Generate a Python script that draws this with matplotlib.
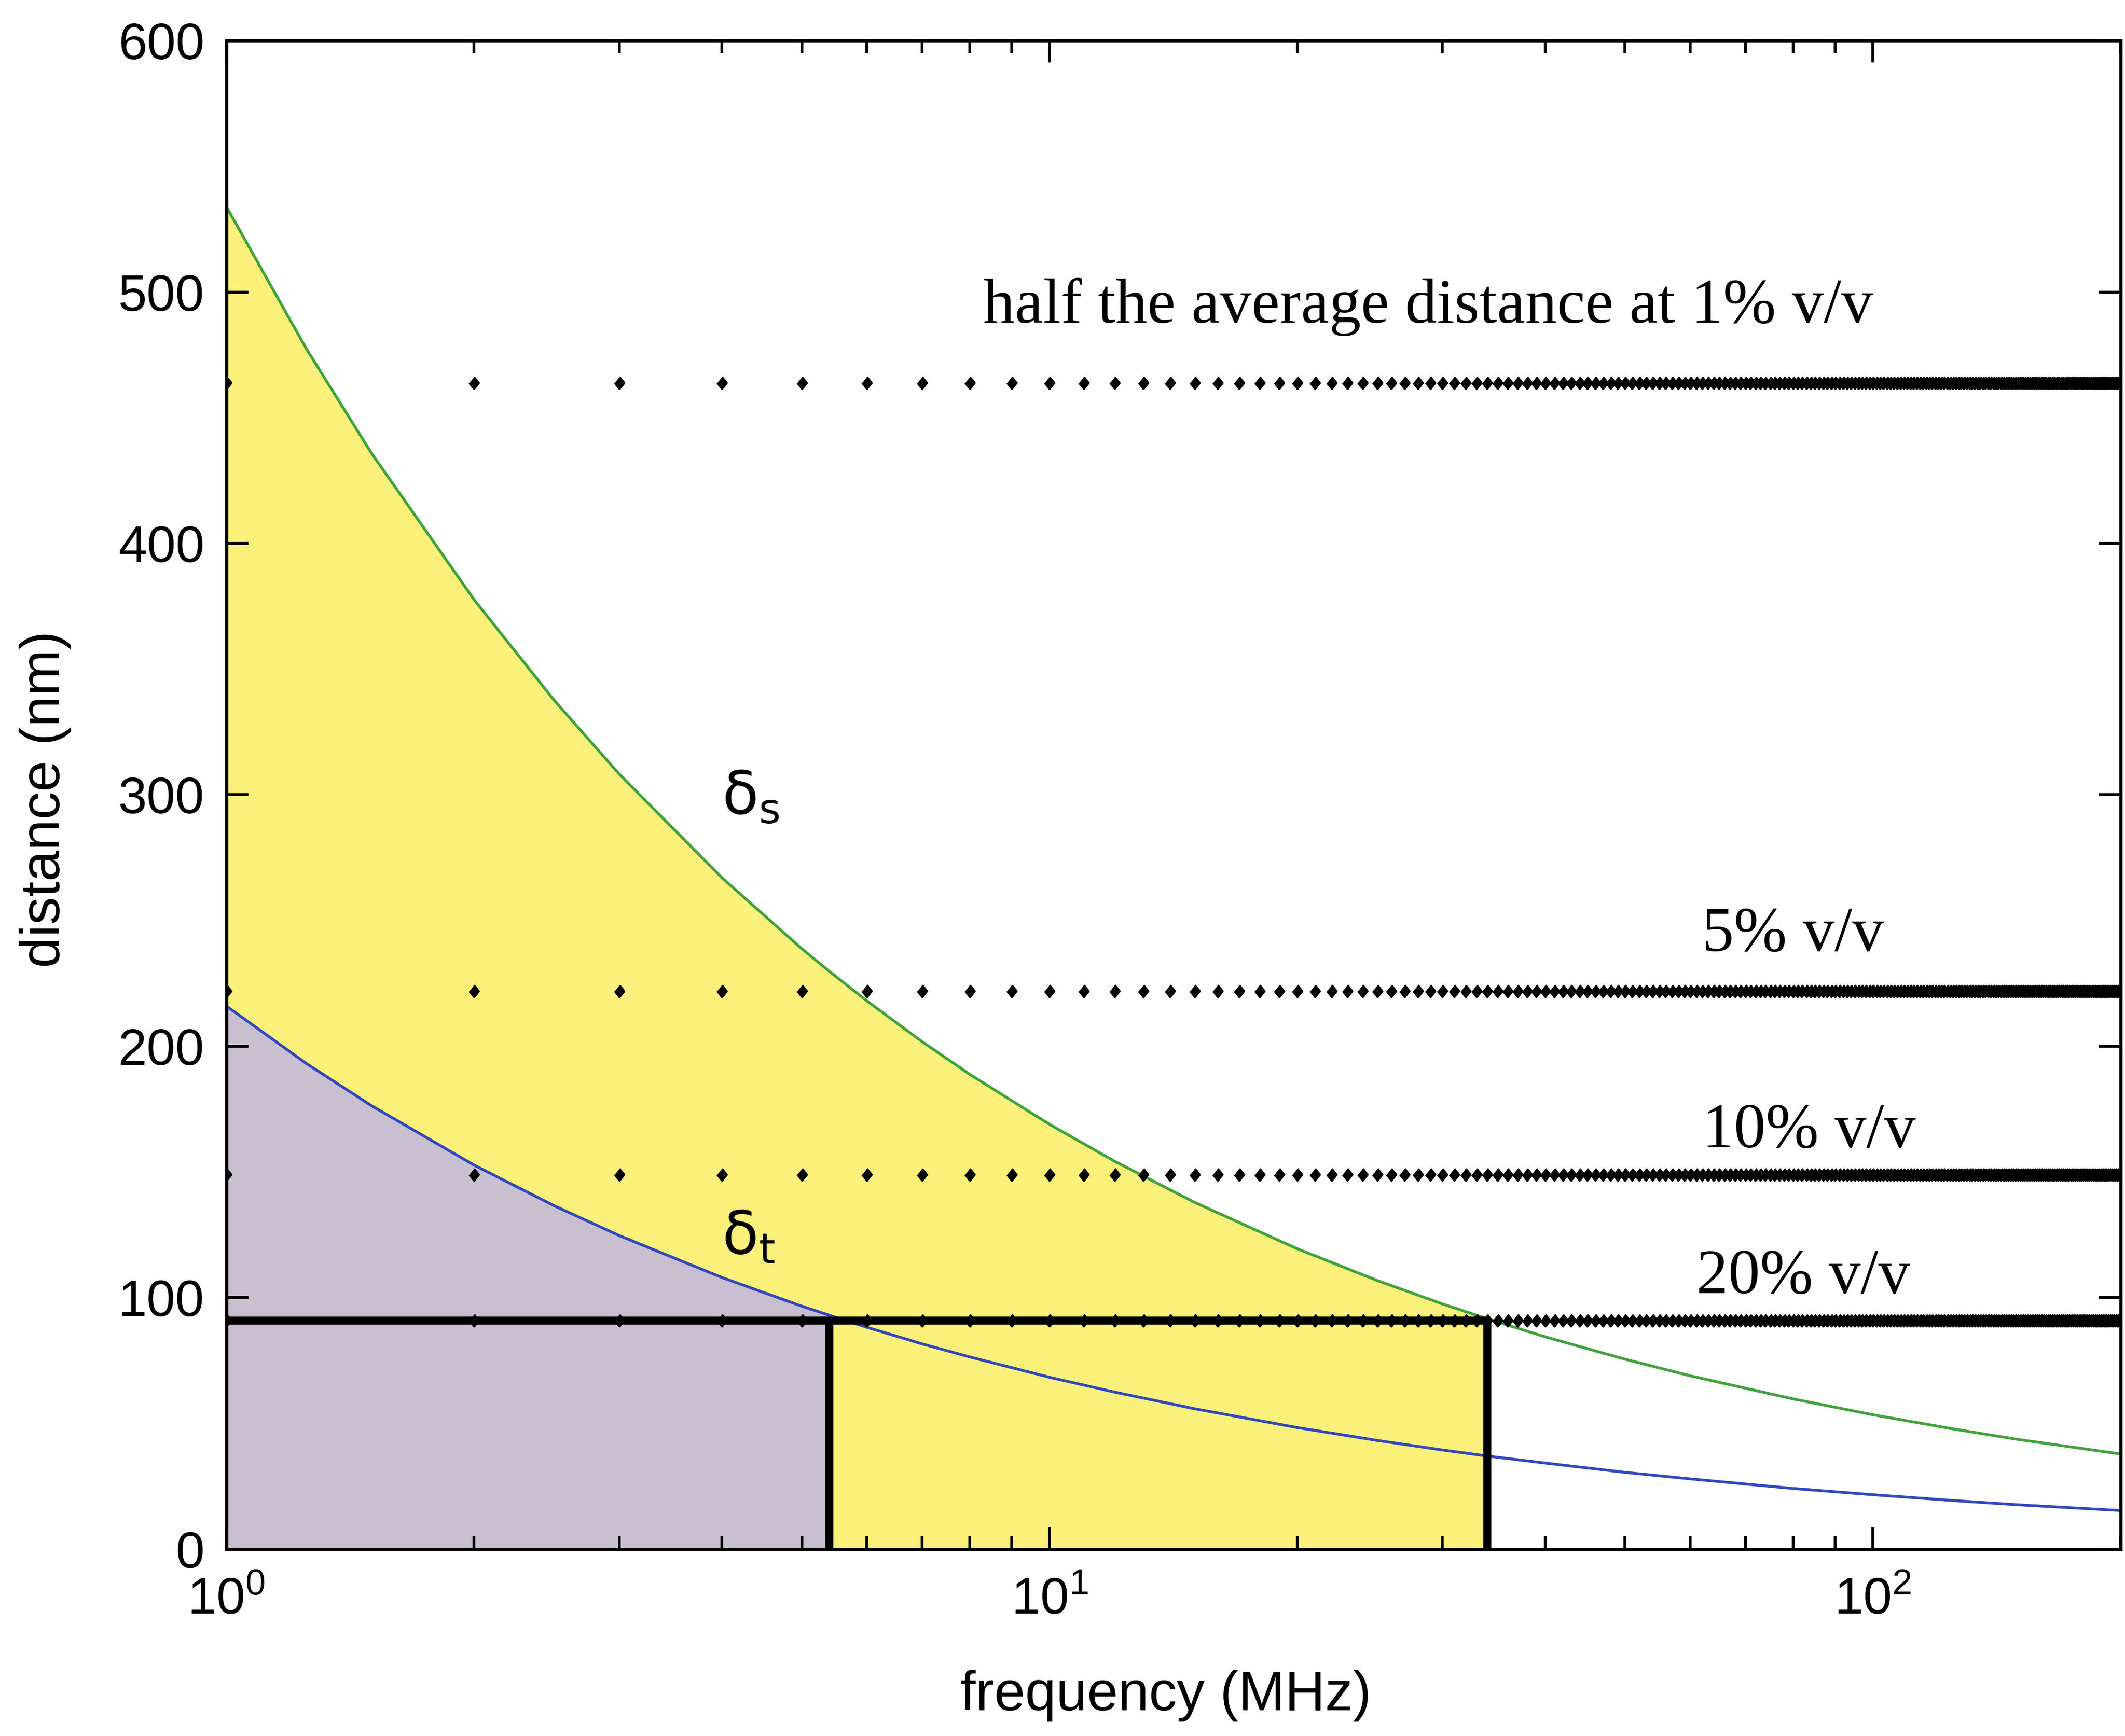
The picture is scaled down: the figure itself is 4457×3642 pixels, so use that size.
import numpy as np
import matplotlib
matplotlib.use('Agg')
import matplotlib.pyplot as plt

plt.rcParams['font.family'] = ['Liberation Sans', 'DejaVu Sans']
plt.rcParams['mathtext.default'] = 'regular'

# frequency (MHz) and the two depths (nm)
freq = [1, 1.25, 1.5, 2, 2.5, 3, 4, 5, 5.4, 6, 7, 8, 10, 12, 15, 20, 25, 30, 34,
        40, 50, 60, 80, 100, 125, 150, 200]
delta_s = [534, 477.6, 436.0, 377.6, 337.7, 308.3, 267.0, 238.8, 229.8, 218.0, 201.8,
           188.8, 168.9, 154.2, 137.9, 119.4, 106.8, 97.5, 91.6, 84.4, 75.5, 68.9,
           59.7, 53.4, 47.8, 43.6, 37.8]
delta_t = [216, 193.2, 176.4, 152.7, 136.6, 124.7, 108.0, 96.6, 93.0, 88.2, 81.6,
           76.4, 68.3, 62.4, 55.8, 48.3, 43.2, 39.4, 37.0, 34.2, 30.5, 27.9,
           24.1, 21.6, 19.3, 17.6, 15.3]

# half the average particle distance for each concentration (nm)
levels = [464, 222, 149, 91]
level_names = ['half the average distance at 1% v/v', '5% v/v', '10% v/v', '20% v/v']
dot_freq = list(range(1, 201))

# limits of the shaded boxes
f_t = 5.4
f_s = 34
d_cut = 91

freq = np.array(freq)
delta_s = np.array(delta_s)
delta_t = np.array(delta_t)

fig = plt.figure(figsize=(4457 / 300, 3642 / 300), dpi=300)
fig.patch.set_facecolor('white')
ax = fig.add_axes([0.1065, 0.1077, 0.8915, 0.8689])

# shaded areas under the curves
ax.fill_between(freq, 0, delta_s, where=freq <= f_s, color='#FAF07A', lw=0, zorder=1)
ax.fill_between(freq, 0, delta_t, where=freq <= f_t, color='#C9BFD0', lw=0, zorder=1.1)

ax.plot(freq, delta_s, color='#3FA33A', lw=1.4, zorder=2)
ax.plot(freq, delta_t, color='#3048C0', lw=1.4, zorder=2)

# box edges
ax.plot([1, f_s], [d_cut, d_cut], color='black', lw=4, solid_capstyle='butt', zorder=3)
ax.plot([f_t, f_t], [0, d_cut], color='black', lw=4, solid_capstyle='butt', zorder=3)
ax.plot([f_s, f_s], [0, d_cut], color='black', lw=4, solid_capstyle='butt', zorder=3)

# dotted concentration lines
diamond = [(0, 1), (0.8, 0), (0, -1), (-0.8, 0)]
for lev in levels:
    ax.plot(dot_freq, [lev] * len(dot_freq), ls='none', marker=diamond,
            ms=6, color='black', zorder=4)

# labels
serif = dict(family=['Liberation Serif', 'DejaVu Serif'], fontsize=32, va='center', ha='left')
ax.text(8.3, 494, level_names[0], **serif)
ax.text(62, 244, level_names[1], **serif)
ax.text(62, 166, level_names[2], **serif)
ax.text(61, 108, level_names[3], **serif)
ax.text(4.0, 299, r'$\delta_{s}$', fontsize=30, ha='left', va='center',
        family=['DejaVu Sans'])
ax.text(4.0, 124, r'$\delta_{t}$', fontsize=30, ha='left', va='center',
        family=['DejaVu Sans'])

ax.set_xscale('log')
ax.set_xlim(1, 200)
ax.set_ylim(0, 600)
ax.set_yticks([0, 100, 200, 300, 400, 500, 600])

ax.tick_params(which='both', direction='in', top=True, right=True, width=1.4)
ax.tick_params(which='major', length=11, labelsize=26)
ax.tick_params(which='minor', length=6.5)
ax.tick_params(axis='x', which='major', pad=14)
ax.tick_params(axis='y', which='major', pad=11)
for sp in ax.spines.values():
    sp.set_linewidth(1.6)

ax.set_xlabel('frequency (MHz)', fontsize=28, va='top')
ax.set_ylabel('distance (nm)', fontsize=28)
ax.xaxis.set_label_coords(0.496, -0.080)
ax.yaxis.set_label_coords(-0.082, 0.497)

plt.savefig('out.png', dpi=300)
